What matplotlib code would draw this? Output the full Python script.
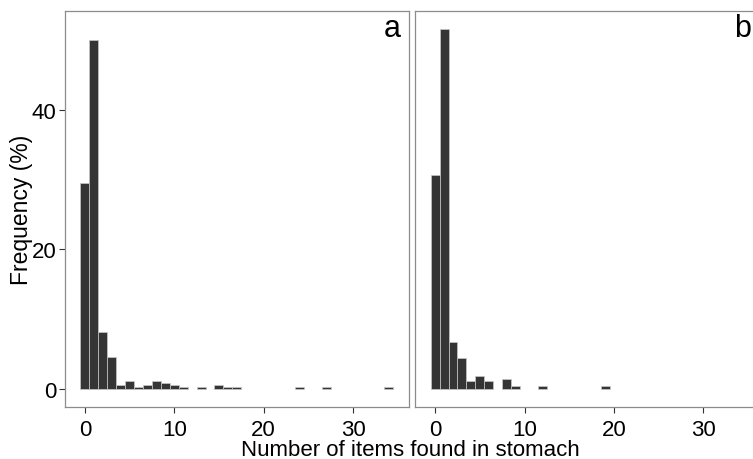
import matplotlib
matplotlib.use('Agg')
import matplotlib.pyplot as plt
import numpy as np

plt.rcParams['font.family'] = ['Liberation Sans', 'DejaVu Sans']

# number of items found per stomach (bin centres) and frequency (%)
items_a = [0, 1, 2, 3, 4, 5, 6, 7, 8, 9, 10, 11, 13, 15, 16, 17, 24, 27, 34]
freq_a = [29.5, 50.0, 8.1, 4.65, 0.58, 1.16, 0.29, 0.58, 1.16, 0.87, 0.58,
          0.29, 0.29, 0.58, 0.29, 0.29, 0.29, 0.29, 0.29]

items_b = [0, 1, 2, 3, 4, 5, 6, 8, 9, 12, 19]
freq_b = [30.7, 51.6, 6.7, 4.4, 1.1, 1.9, 1.1, 1.5, 0.37, 0.37, 0.37]

panels = [('a', items_a, freq_a), ('b', items_b, freq_b)]
xticks = [0, 10, 20, 30]
yticks = [0, 20, 40]

W, H = 753, 460
fig = plt.figure(figsize=(W / 100, H / 100), dpi=100)

xlo, xhi = -2.25, 36.25
ymax = max(max(freq_a), max(freq_b))
ylo, yhi = -0.05 * ymax, 1.05 * ymax

lefts = [64.7, 415.0]
pw = 344.3
bot, top = 408, 12

for i, (lab, xs, ys) in enumerate(panels):
    ax = fig.add_axes([lefts[i] / W, 1 - bot / H, pw / W, (bot - top) / H])
    ax.bar(xs, ys, width=1.0, color='#353535', edgecolor='#c8c8c8', linewidth=0.5)
    ax.set_xlim(xlo, xhi)
    ax.set_ylim(ylo, yhi)
    for s in ax.spines.values():
        s.set_color('#8c8c8c')
        s.set_linewidth(0.9)
    ax.set_xticks(xticks)
    ax.tick_params(axis='x', length=4, width=0.8, color='#333333',
                   labelsize=16, labelcolor='black', pad=5)
    ax.tick_params(axis='y', length=4, width=0.8, color='#333333',
                   labelsize=16, labelcolor='black', pad=2)
    if i == 0:
        ax.set_yticks(yticks)
    else:
        ax.set_yticks([])
    ax.text(0.976, 0.995, lab, transform=ax.transAxes,
            ha='right', va='top', fontsize=22)

fig.text(22 / W, 1 - 210 / H, 'Frequency (%)', rotation=90,
         ha='center', va='center', fontsize=16.5)
fig.text(410 / W, 1 - 456 / H, 'Number of items found in stomach',
         ha='center', va='baseline', fontsize=16)

plt.savefig('out.png', dpi=100)
